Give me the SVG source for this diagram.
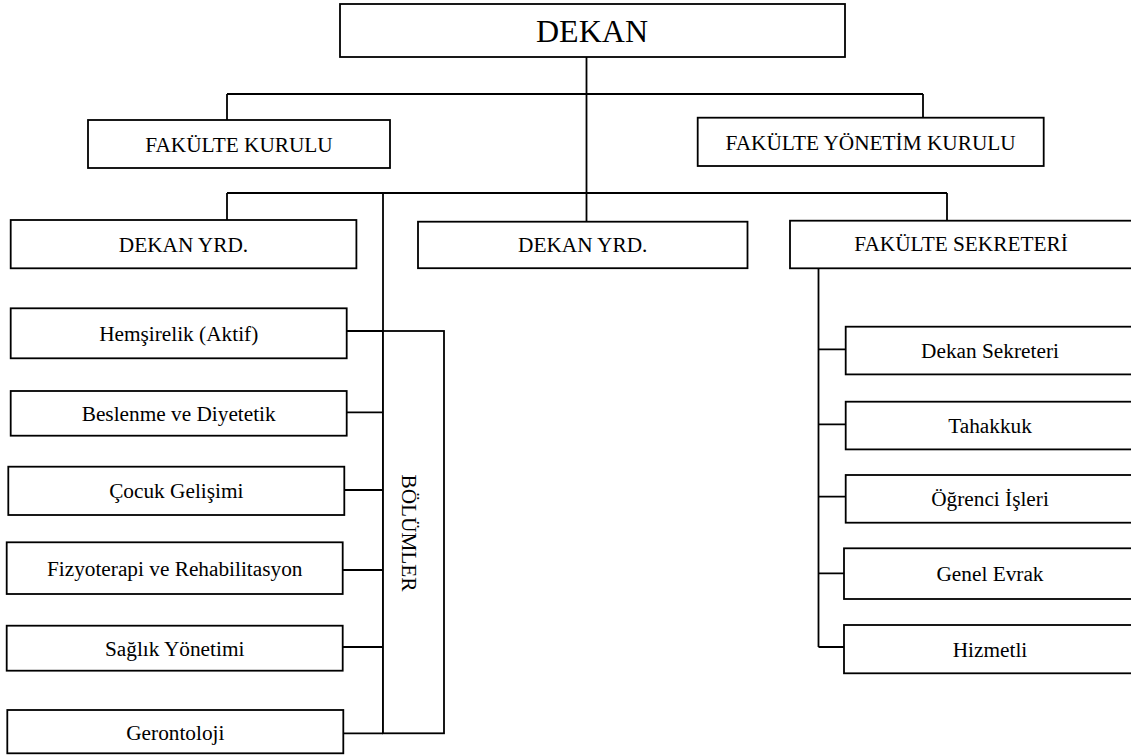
<svg xmlns="http://www.w3.org/2000/svg" width="1131" height="755" viewBox="0 0 1131 755">
<style>
.box{fill:#fff;stroke:#000;stroke-width:1.8}
.t{font-family:"Liberation Serif","Times New Roman",serif;font-size:21.3px;fill:#000;text-anchor:middle}
.big{font-size:32px}
.c{fill:none;stroke:#000;stroke-width:1.8}
</style>
<rect width="1131" height="755" fill="#fff"/>
<g id="connectors">
<path class="c" d="M586.5 57V221.7M227 94H923M227 94V120M923 94V117.7M227 193H947M227 193V220M947 193V220.5M383 193V733"/>
<path class="c" d="M346.7 331H383M346.7 412.3H383M344.3 490H383M342.7 570H383M342.7 647H383M343.3 733.3H383"/>
<path class="c" d="M818.5 268.3V647M818.5 349.3H845.7M818.5 424.3H845.7M818.5 496.7H845.7M818.5 573.3H844M818.5 647H844"/>
</g>
<g id="dekan"><rect class="box" x="340" y="4" width="505" height="53"/><text class="t big" x="592" y="42">DEKAN</text></g>
<g id="fakulte-kurulu"><rect class="box" x="88" y="120" width="302" height="48"/><text class="t" x="239" y="151.5">FAKÜLTE KURULU</text></g>
<g id="fakulte-yonetim-kurulu"><rect class="box" x="697.7" y="117.7" width="346" height="48.3"/><text class="t" x="870.6" y="149.5">FAKÜLTE YÖNETİM KURULU</text></g>
<g id="dekan-yrd-1"><rect class="box" x="10.7" y="220" width="345.7" height="48.3"/><text class="t" x="183.5" y="251.5">DEKAN YRD.</text></g>
<g id="dekan-yrd-2"><rect class="box" x="418" y="221.7" width="329.5" height="46.5"/><text class="t" x="582.7" y="252">DEKAN YRD.</text></g>
<g id="fakulte-sekreteri"><rect class="box" x="790" y="220.7" width="350" height="47.6"/><text class="t" x="961" y="251">FAKÜLTE SEKRETERİ</text></g>
<g id="bolumler"><rect class="box" x="383" y="331" width="61" height="402.3"/><text class="t" transform="translate(401.7 533) rotate(90)">BÖLÜMLER</text></g>
<g id="hemsirelik"><rect class="box" x="10.7" y="308.3" width="336" height="50"/><text class="t" x="178.7" y="340.8">Hemşirelik (Aktif)</text></g>
<g id="beslenme"><rect class="box" x="10.7" y="391" width="336" height="44.7"/><text class="t" x="178.7" y="421">Beslenme ve Diyetetik</text></g>
<g id="cocuk"><rect class="box" x="8.3" y="466.7" width="336" height="48.3"/><text class="t" x="176.3" y="498">Çocuk Gelişimi</text></g>
<g id="fizyoterapi"><rect class="box" x="6.7" y="542.3" width="336" height="51.7"/><text class="t" x="174.7" y="575.5">Fizyoterapi ve Rehabilitasyon</text></g>
<g id="saglik"><rect class="box" x="6.7" y="625.7" width="336" height="45"/><text class="t" x="174.7" y="655.5">Sağlık Yönetimi</text></g>
<g id="gerontoloji"><rect class="box" x="7.3" y="710" width="336" height="43.3"/><text class="t" x="175.3" y="739.5">Gerontoloji</text></g>
<g id="dekan-sekreteri"><rect class="box" x="845.7" y="326.7" width="300" height="47.7"/><text class="t" x="990" y="358">Dekan Sekreteri</text></g>
<g id="tahakkuk"><rect class="box" x="845.7" y="401.7" width="300" height="47.7"/><text class="t" x="990" y="432.8">Tahakkuk</text></g>
<g id="ogrenci-isleri"><rect class="box" x="845.7" y="475" width="300" height="47.7"/><text class="t" x="990" y="506">Öğrenci İşleri</text></g>
<g id="genel-evrak"><rect class="box" x="844" y="548.3" width="300" height="50.7"/><text class="t" x="990" y="581">Genel Evrak</text></g>
<g id="hizmetli"><rect class="box" x="844" y="625" width="300" height="48.3"/><text class="t" x="990" y="656.5">Hizmetli</text></g>
</svg>
